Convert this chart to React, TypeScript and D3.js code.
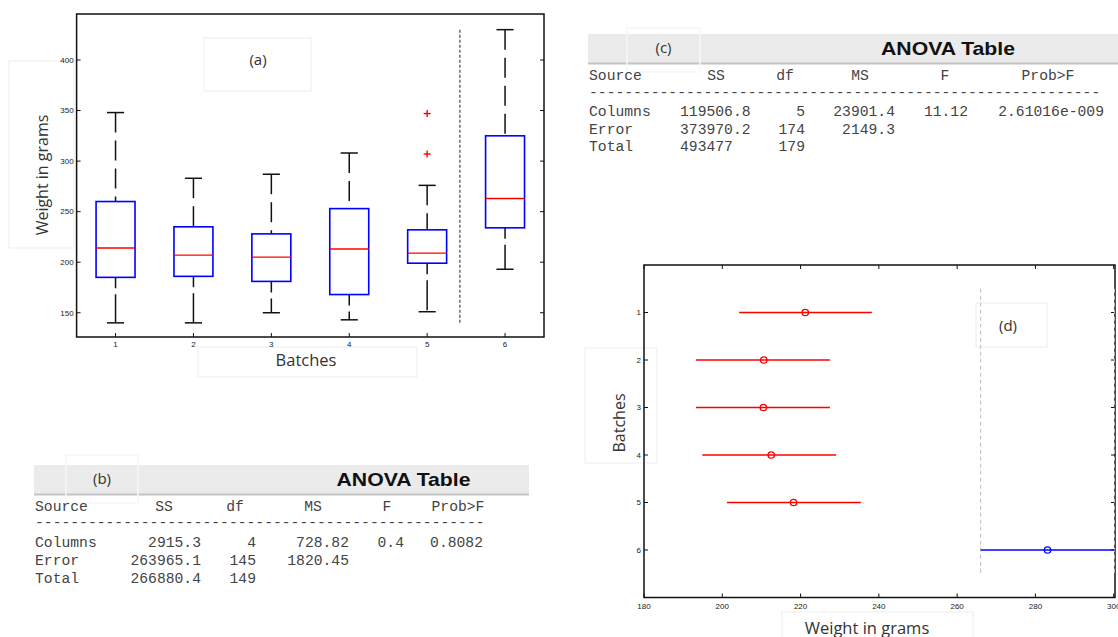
import * as d3 from 'd3';

// (a) box plot stats per batch
const batches = [1, 2, 3, 4, 5, 6];
const whiskerHigh = [348, 283, 287, 308, 276, 430];
const q3 = [260, 235, 228, 253, 232, 325];
const medians = [214, 207, 205, 213, 209, 263];
const q1 = [185, 186, 181, 168, 199, 234];
const whiskerLow = [140, 140, 150, 143, 151, 193];
const outlierBatch = [5, 5];
const outlierValue = [347, 307];
const weightTicksA = [150, 200, 250, 300, 350, 400];
const dividerA = { batch: 5.42, from: 138, to: 430 };

// (d) multiple comparison intervals
const groupMeans = [221.2, 210.6, 210.5, 212.5, 218.2, 283.1];
const intervalLow = [204.3, 193.3, 193.3, 194.9, 201.2, 266.0];
const intervalHigh = [238.2, 227.5, 227.5, 229.1, 235.4, 300.2];
const weightTicksD = [180, 200, 220, 240, 260, 280, 300];

// ANOVA tables
const anovaHeader = ['Source', 'SS', 'df', 'MS', 'F', 'Prob>F'];
const anovaRowsB = [
  ['Columns', '2915.3', '4', '728.82', '0.4', '0.8082'],
  ['Error', '263965.1', '145', '1820.45', '', ''],
  ['Total', '266880.4', '149', '', '', ''],
];
const anovaRowsC = [
  ['Columns', '119506.8', '5', '23901.4', '11.12', '2.61016e-009'],
  ['Error', '373970.2', '174', '2149.3', '', ''],
  ['Total', '493477', '179', '', '', ''],
];

const mono = '"Liberation Mono", "Courier New", monospace';
const sans = '"Open Sans", "Liberation Sans", sans-serif';
const arial = '"Liberation Sans", Arial, sans-serif';
const faint = '#f1f1f1';

const FaintBox = ({ x, y, w, h }: { x: number; y: number; w: number; h: number }) => (
  <rect x={x} y={y} width={w} height={h} fill="none" stroke={faint} strokeWidth={1.2} />
);

const AnovaTable = ({ rows, left, top, barRight, headX, valX, valAnchor, rowY, dashEnd, label, labelBox, titleX }: any) => {
  const dashCount = Math.round((dashEnd - left) / 8.82);
  return (
    <g>
      <rect x={left - 1} y={top} width={barRight - left + 1} height={29} fill="#ebebeb" />
      <line x1={left - 1} x2={barRight} y1={top + 29.5} y2={top + 29.5} stroke="#c4c4c4" strokeWidth={2} />
      <rect x={labelBox[0]} y={labelBox[1]} width={labelBox[2]} height={labelBox[3]} fill="none" stroke="#f8f8f8" strokeWidth={1.5} />
      <text x={labelBox[0] + labelBox[2] / 2} y={top + 19} textAnchor="middle" fontFamily={sans} fontSize={15} fill="#333">{label}</text>
      <text x={titleX} y={top + 20.5} textAnchor="middle" fontFamily={arial} fontWeight="bold" fontSize={19} textLength={134} lengthAdjust="spacingAndGlyphs" fill="#111">ANOVA Table</text>
      <g fontFamily={mono} fontSize={14.7} fill="#444">
        {anovaHeader.map((h, i) => (
          <text key={h} x={headX[i]} y={rowY[0]} textAnchor={i === 0 ? 'start' : 'middle'}>{h}</text>
        ))}
        <text x={left} y={rowY[1]}>{'-'.repeat(dashCount)}</text>
        {rows.map((r: string[], ri: number) =>
          r.map((c, ci) => c && (
            <text key={`${ri}-${ci}`} x={valX[ci]} y={rowY[ri + 2]} textAnchor={valAnchor[ci]}>{c}</text>
          ))
        )}
      </g>
    </g>
  );
};

const App = () => {
  // panel (a)
  const ax = d3.scaleLinear().domain([0.5, 6.5]).range([76.6, 544]);
  const ay = d3.scaleLinear().domain([126, 445.5]).range([337, 14]);
  const step = ax(2) - ax(1);
  const boxW = step * 0.5;
  const capW = step * 0.22;

  // panel (d)
  const dx = d3.scaleLinear().domain([180, 300]).range([644, 1113.7]);
  const dy = d3.scaleLinear().domain([0, 7]).range([265, 597.5]);

  return (
    <svg width={1118} height={637} style={{ position: 'absolute', left: 0, top: 0, background: '#fff' }}>
      <defs>
        <clipPath id="clipD">
          <rect x={644} y={265} width={471} height={332.5} />
        </clipPath>
      </defs>

      {/* ---------- (a) box plot ---------- */}
      <FaintBox x={204} y={38} w={107} h={53} />
      <FaintBox x={9} y={61} w={65} h={187} />
      <FaintBox x={198} y={347} w={219} h={30} />
      <text x={258} y={65} textAnchor="middle" fontFamily={sans} fontSize={15} fill="#333">(a)</text>
      <text transform={`translate(48,175) rotate(-90)`} textAnchor="middle" fontFamily={sans} fontSize={16} fill="#333">Weight in grams</text>
      <text x={306} y={366} textAnchor="middle" fontFamily={sans} fontSize={16.5} fill="#333">Batches</text>

      <rect x={ax.range()[0]} y={ay.range()[1]} width={ax.range()[1] - ax.range()[0]} height={ay.range()[0] - ay.range()[1]} fill="none" stroke="#111" strokeWidth={1.5} />
      {weightTicksA.map((t) => (
        <g key={t}>
          <line x1={ax.range()[0]} x2={ax.range()[0] + 4} y1={ay(t)} y2={ay(t)} stroke="#111" />
          <line x1={ax.range()[1] - 4} x2={ax.range()[1]} y1={ay(t)} y2={ay(t)} stroke="#111" />
          <text x={ax.range()[0] - 3} y={ay(t) + 2.8} textAnchor="end" fontFamily={arial} fontSize={8} fill="#222">{t}</text>
        </g>
      ))}
      {batches.map((b) => (
        <g key={b}>
          <line x1={ax(b)} x2={ax(b)} y1={337} y2={333} stroke="#111" />
          <text x={ax(b)} y={346.5} textAnchor="middle" fontFamily={arial} fontSize={8} fill="#222">{b}</text>
        </g>
      ))}
      <line x1={ax(dividerA.batch)} x2={ax(dividerA.batch)} y1={ay(dividerA.to)} y2={ay(dividerA.from)} stroke="#555" strokeWidth={1.3} strokeDasharray="3 2" />

      {batches.map((b, i) => {
        const cx = ax(b);
        return (
          <g key={`box${b}`}>
            <line x1={cx} x2={cx} y1={ay(whiskerHigh[i])} y2={ay(q3[i])} stroke="#111" strokeWidth={1.5} strokeDasharray="20 8" />
            <line x1={cx} x2={cx} y1={ay(q1[i])} y2={ay(whiskerLow[i])} stroke="#111" strokeWidth={1.5} strokeDasharray="11 6 30 8" />
            <line x1={cx - capW / 2} x2={cx + capW / 2} y1={ay(whiskerHigh[i])} y2={ay(whiskerHigh[i])} stroke="#111" strokeWidth={1.5} />
            <line x1={cx - capW / 2} x2={cx + capW / 2} y1={ay(whiskerLow[i])} y2={ay(whiskerLow[i])} stroke="#111" strokeWidth={1.5} />
            <rect x={cx - boxW / 2} y={ay(q3[i])} width={boxW} height={ay(q1[i]) - ay(q3[i])} fill="none" stroke="#0000ff" strokeWidth={1.6} />
            <line x1={cx - boxW / 2} x2={cx + boxW / 2} y1={ay(medians[i])} y2={ay(medians[i])} stroke="#ff0000" strokeWidth={1.4} />
          </g>
        );
      })}
      {outlierValue.map((v, i) => {
        const cx = ax(outlierBatch[i]);
        const cy = ay(v);
        return (
          <g key={`o${i}`} stroke="#ff0000" strokeWidth={1.4}>
            <line x1={cx - 3.5} x2={cx + 3.5} y1={cy} y2={cy} />
            <line x1={cx} x2={cx} y1={cy - 3.5} y2={cy + 3.5} />
          </g>
        );
      })}

      {/* ---------- (b) ANOVA ---------- */}
      <AnovaTable
        rows={anovaRowsB}
        left={35}
        top={465}
        barRight={529}
        headX={[35, 164, 235, 313, 387, 458]}
        valX={[35, 201, 256, 349, 404, 483]}
        valAnchor={['start', 'end', 'end', 'end', 'end', 'end']}
        rowY={[511, 527, 546.5, 565, 583]}
        dashEnd={488}
        label="(b)"
        labelBox={[66, 455, 72, 48]}
        titleX={403.5}
      />

      {/* ---------- (c) ANOVA ---------- */}
      <AnovaTable
        rows={anovaRowsC}
        left={589}
        top={34}
        barRight={1118}
        headX={[589, 716, 785, 860, 945, 1048]}
        valX={[589, 680, 805, 895, 968, 1104]}
        valAnchor={['start', 'start', 'end', 'end', 'end', 'end']}
        rowY={[79.5, 96.5, 116, 133.5, 150.5]}
        dashEnd={1103}
        label="(c)"
        labelBox={[627, 28, 73, 44]}
        titleX={948}
      />

      {/* ---------- (d) comparison intervals ---------- */}
      <FaintBox x={976} y={303} w={71} h={44} />
      <FaintBox x={585} y={348} w={72} h={115} />
      <FaintBox x={782} y={612} w={191} h={30} />
      <text x={1008} y={331} textAnchor="middle" fontFamily={sans} fontSize={15} fill="#333">(d)</text>
      <text transform={`translate(625,423) rotate(-90)`} textAnchor="middle" fontFamily={sans} fontSize={16} fill="#333">Batches</text>
      <text x={867} y={634} textAnchor="middle" fontFamily={sans} fontSize={16.5} fill="#333">Weight in grams</text>

      <rect x={644} y={265} width={471} height={332.5} fill="none" stroke="#111" strokeWidth={1.5} />
      {weightTicksD.map((t) => (
        <g key={t}>
          <line x1={dx(t)} x2={dx(t)} y1={597.5} y2={593.5} stroke="#111" />
          <line x1={dx(t)} x2={dx(t)} y1={265} y2={269} stroke="#111" />
          <text x={dx(t)} y={609} textAnchor="middle" fontFamily={arial} fontSize={8} fill="#222">{t}</text>
        </g>
      ))}
      {batches.map((b) => (
        <g key={`d${b}`}>
          <line x1={644} x2={648} y1={dy(b)} y2={dy(b)} stroke="#111" />
          <line x1={1111} x2={1115} y1={dy(b)} y2={dy(b)} stroke="#111" />
          <text x={641} y={dy(b) + 2.8} textAnchor="end" fontFamily={arial} fontSize={8} fill="#222">{b}</text>
        </g>
      ))}
      {[intervalLow[5], intervalHigh[5]].map((v, i) => (
        <line key={`dv${i}`} x1={dx(v)} x2={dx(v)} y1={dy(0.5)} y2={dy(6.5)} stroke="#bdbdbd" strokeWidth={1} strokeDasharray="4 3" />
      ))}
      <g clipPath="url(#clipD)">
        {batches.map((b, i) => {
          const col = i === 5 ? '#0000ff' : '#ff0000';
          return (
            <g key={`ci${b}`}>
              <line x1={dx(intervalLow[i])} x2={dx(intervalHigh[i])} y1={dy(b)} y2={dy(b)} stroke={col} strokeWidth={1.5} />
              <circle cx={dx(groupMeans[i])} cy={dy(b)} r={3.2} fill="none" stroke={col} strokeWidth={1.3} />
            </g>
          );
        })}
      </g>
    </svg>
  );
};

export default App;
